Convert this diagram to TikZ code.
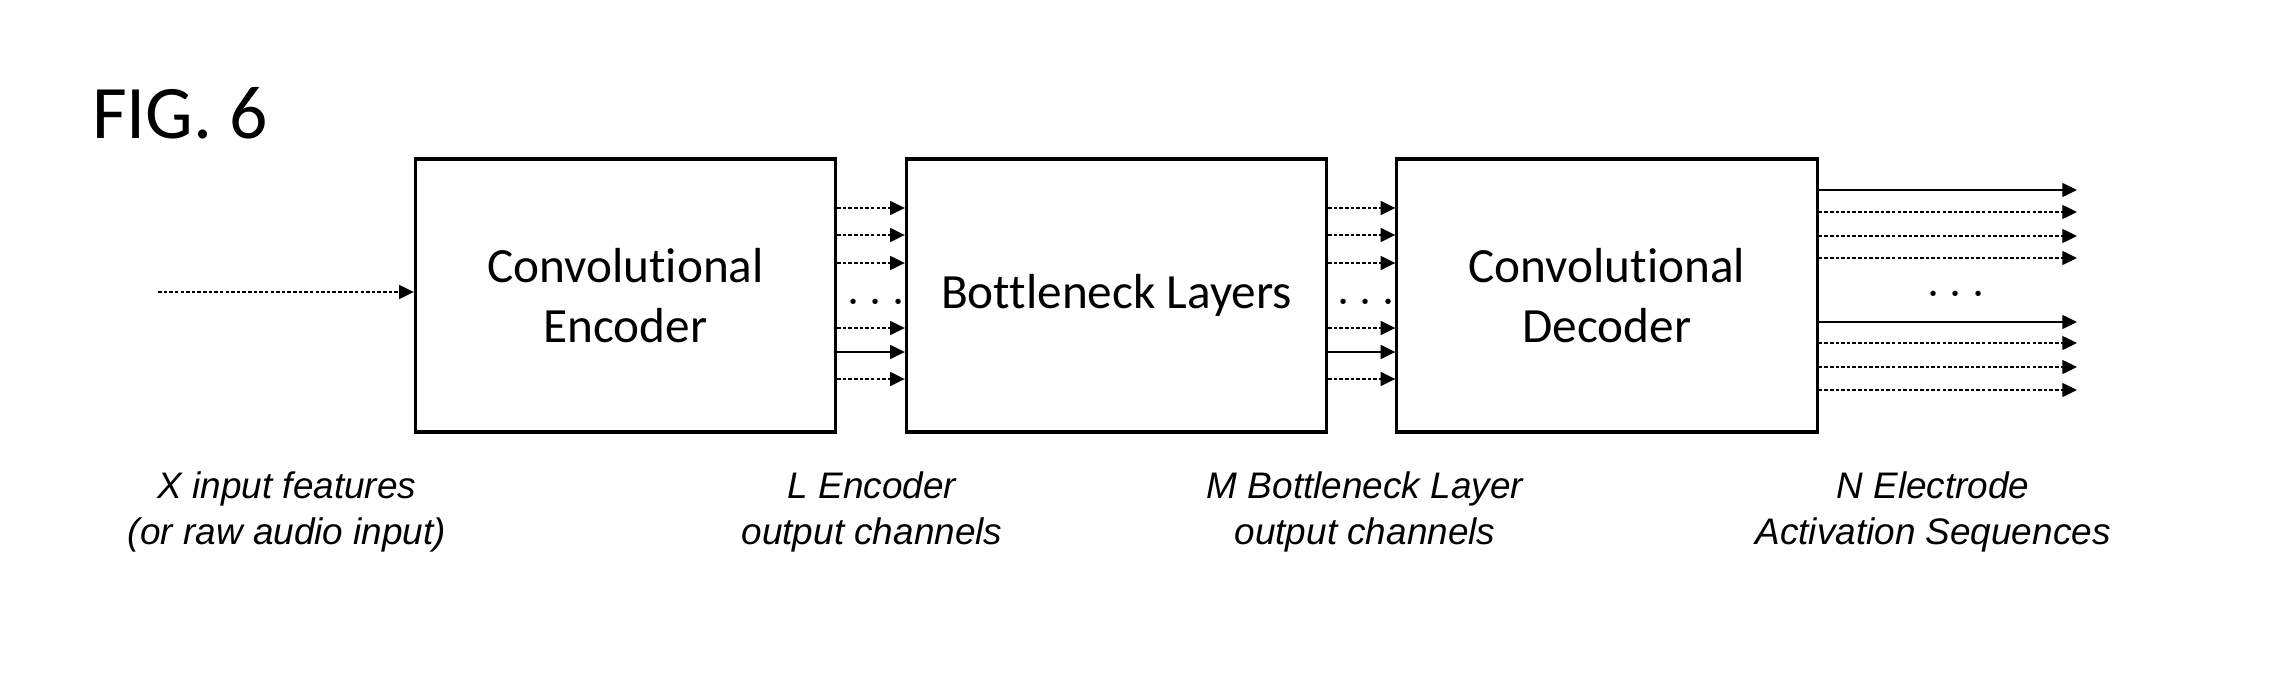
\documentclass[tikz,border=0pt]{standalone}
\usepackage{fontspec}
\setmainfont{Carlito}[Ligatures=NoCommon]
\newfontfamily\notefont{Liberation Sans}
\usetikzlibrary{arrows.meta,positioning}

\begin{document}
\begin{tikzpicture}[x=0.01cm, y=-0.01cm,
    block/.style={draw, line width=0.9pt, minimum width=4.2cm, minimum height=2.73cm, align=center, font=\fontsize{14}{17}\selectfont},
    arr/.style={-{Triangle[length=4.2pt,width=4pt]}, thin, dash pattern=on 1pt off 0.6pt},
    arrsolid/.style={-{Triangle[length=4.2pt,width=4pt]}, thin},
    note/.style={align=center, font=\notefont\itshape\fontsize{10.5}{13}\selectfont},
    gapdots/.style={font=\fontsize{14}{14}\selectfont, inner sep=0pt}
]
\useasboundingbox (0,0) rectangle (2279,685);

\node[font=\fontsize{21.5}{22}\selectfont] (fig) at (180,113) {FIG. 6};

% blocks
\node[block] (enc) at (625.5,295.5) {Convolutional\\Encoder};
\node[block] (bot) at (1116.5,295.5) {Bottleneck Layers};
\node[block] (dec) at (1607,295.5) {Convolutional\\Decoder};

% captions
\node[note] (xin) at (287,512) {X input features\\(or raw audio input)};
\node[note] (lout) at (872,512) {L Encoder\\output channels};
\node[note] (mout) at (1365,512) {M Bottleneck Layer\\output channels};
\node[note] (nout) at (1933,512) {N Electrode\\Activation Sequences};

% input
\coordinate (src) at (158,292);
\draw[arr] (src) -- (src -| enc.west);

% channels between blocks
\foreach \y in {208,235,263,328,379} {
    \draw[arr] (enc.east |- 0,\y) -- (bot.west |- 0,\y);
    \draw[arr] (bot.east |- 0,\y) -- (dec.west |- 0,\y);
}
\foreach \y in {352} {
    \draw[arrsolid] (enc.east |- 0,\y) -- (bot.west |- 0,\y);
    \draw[arrsolid] (bot.east |- 0,\y) -- (dec.west |- 0,\y);
}
\node[gapdots] (d1) at (876,303) {$\cdots$};
\node[gapdots] (d2) at (1366,303) {$\cdots$};

% outputs
\coordinate (sink) at (2077,0);
\foreach \y in {212,236,258,343,367,390}
    \draw[arr] (dec.east |- 0,\y) -- (sink |- 0,\y);
\foreach \y in {190,322}
    \draw[arrsolid] (dec.east |- 0,\y) -- (sink |- 0,\y);
\node[gapdots] (d3) at (1956,295) {$\cdots$};
\end{tikzpicture}
\end{document}
